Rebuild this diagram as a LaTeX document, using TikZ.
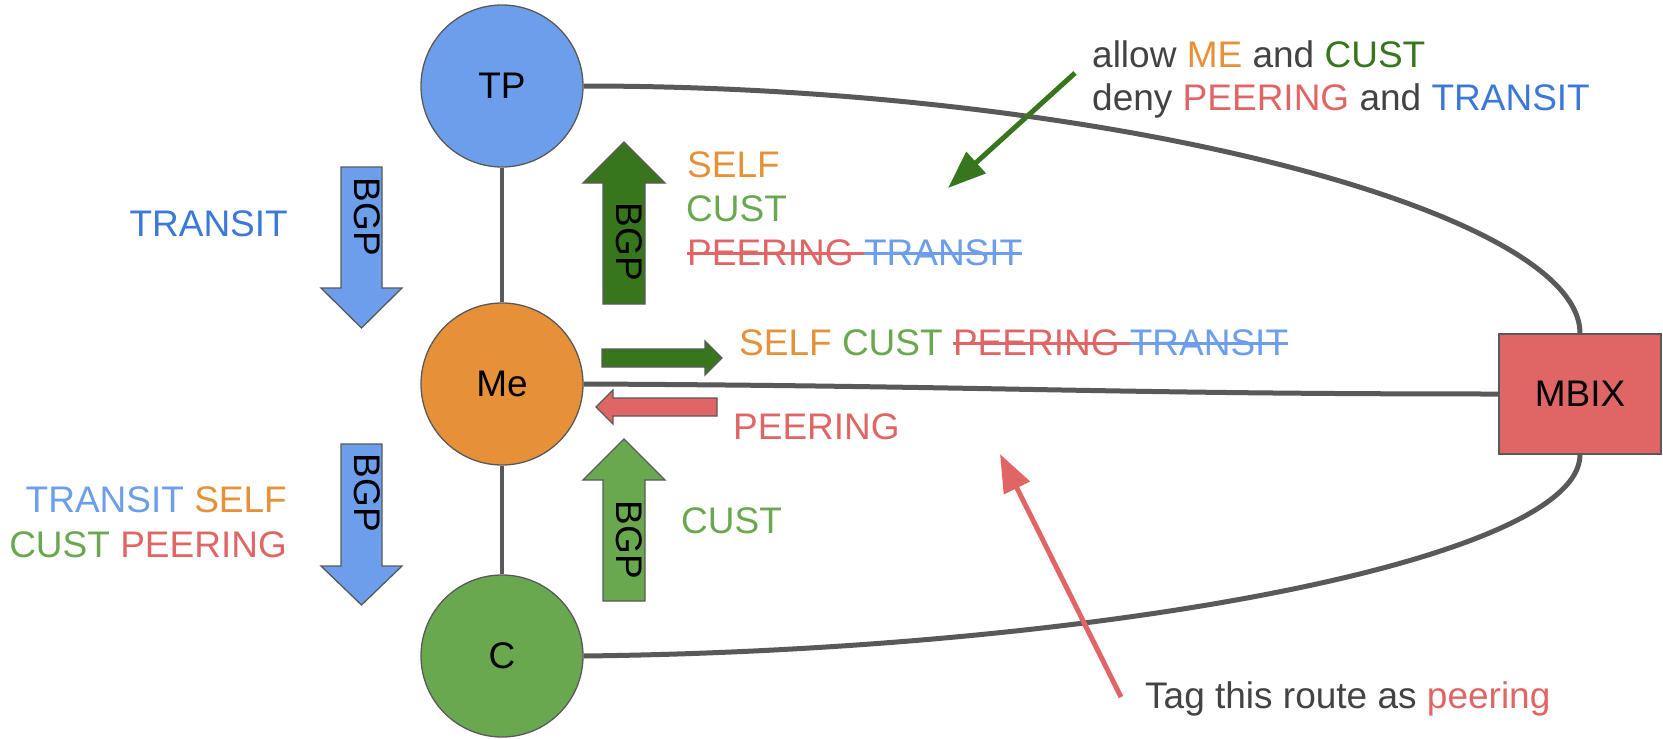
\documentclass[tikz,border=0pt]{standalone}
\usepackage{fontspec}
\setmainfont{Liberation Sans}
\usetikzlibrary{arrows.meta}
\definecolor{cOrange}{HTML}{E69138}
\definecolor{cGreen}{HTML}{6AA84F}
\definecolor{cDkGreen}{HTML}{38761D}
\definecolor{cRed}{HTML}{E06666}
\definecolor{cBlue}{HTML}{6D9EEB}
\definecolor{cDkBlue}{HTML}{3C78D8}
\definecolor{cGrey}{HTML}{434343}
\definecolor{cLine}{HTML}{595959}
\newsavebox{\mystrikebox}
\newcommand{\strk}[2]{{\color{#1}\sbox{\mystrikebox}{#2}\rlap{\rule[0.27em]{\wd\mystrikebox}{0.09em}}\usebox{\mystrikebox}}}
\begin{document}
\begin{tikzpicture}[x=1pt,y=-1pt,
  every node/.style={font=\fontsize{37}{44}\selectfont, inner sep=0pt},
  hub/.style={circle, minimum size=162pt, draw=cLine, line width=1.3pt},
  conn/.style={draw=cLine, line width=5pt},
  vconn/.style={draw=cLine, line width=4.5pt},
  blk/.style={draw=cLine, line width=1.3pt},
  lbl/.style={anchor=base west},
  bgp/.style={rotate=-90},
  annot/.style={line width=5pt, -{Triangle[length=38pt,width=28pt]}}]
\useasboundingbox (0,0) rectangle (1663,739);

% main nodes
\node[hub, fill=cBlue] (tp) at (502,86) {TP};
\node[hub, fill=cOrange] (me) at (502,384) {Me};
\node[hub, fill=cGreen] (c) at (502,656) {C};
\node[draw=cLine, line width=1.3pt, fill=cRed, minimum width=162pt, minimum height=120pt] (mbix) at (1580,394) {MBIX};

% connectors
\draw[vconn] (tp.south) -- (me.north);
\draw[vconn] (me.south) -- (c.north);
\draw[conn] (tp.east) .. controls (1100,86) and (1580,210) .. (mbix.north);
\draw[conn] (me.east) .. controls (1000,386) and (1100,394) .. (mbix.west);
\draw[conn] (c.east) .. controls (1100,650) and (1580,560) .. (mbix.south);

% block arrows
\draw[blk, fill=cBlue] (341,167) -- (382,167) -- (382,288) -- (402,288) -- (361.5,328) -- (321,288) -- (341,288) -- cycle;
\node[bgp] (bgp1) at (367,217) {BGP};
\draw[blk, fill=cBlue] (341,444) -- (382,444) -- (382,566) -- (402,566) -- (361.5,605) -- (321,566) -- (341,566) -- cycle;
\node[bgp] (bgp2) at (367,493) {BGP};
\draw[blk, fill=cDkGreen] (603,304) -- (645,304) -- (645,183) -- (665,183) -- (624,142) -- (583,183) -- (603,183) -- cycle;
\node[bgp] (bgp3) at (629,242) {BGP};
\draw[blk, fill=cGreen] (603,601) -- (645,601) -- (645,480) -- (665,480) -- (624,439) -- (583,480) -- (603,480) -- cycle;
\node[bgp] (bgp4) at (629,540) {BGP};
\draw[blk, fill=cDkGreen] (602,349) -- (705,349) -- (705,341) -- (722,358) -- (705,375) -- (705,367) -- (602,367) -- cycle;
\draw[blk, fill=cRed] (717,398) -- (613,398) -- (613,390) -- (596,407) -- (613,424) -- (613,416) -- (717,416) -- cycle;

% labels
\node[anchor=base east, text=cDkBlue] (t1) at (288,236) {TRANSIT};
\node[anchor=base east] (t2) at (287,512) {\textcolor{cBlue}{TRANSIT} \textcolor{cOrange}{SELF}};
\node[anchor=base east] (t3) at (287,557) {\textcolor{cGreen}{CUST} \textcolor{cRed}{PEERING}};
\node[lbl, text=cOrange] (l1) at (687,177) {SELF};
\node[lbl, text=cGreen] (l2) at (686,221) {CUST};
\node[lbl] (l3) at (687,265) {\strk{cRed}{PEERING }\strk{cBlue}{TRANSIT}};
\node[lbl] (l4) at (739,355) {\textcolor{cOrange}{SELF} \textcolor{cGreen}{CUST} \strk{cRed}{PEERING }\strk{cBlue}{TRANSIT}};
\node[lbl, text=cRed] (l5) at (733,439) {PEERING};
\node[lbl, text=cGreen] (l6) at (681,533) {CUST};
\node[lbl, text=cGrey] (a1) at (1092,67) {allow \textcolor{cOrange}{ME} and \textcolor{cDkGreen}{CUST}};
\node[lbl, text=cGrey] (a2) at (1092,110) {deny \textcolor{cRed}{PEERING} and \textcolor{cDkBlue}{TRANSIT}};
\node[lbl, text=cGrey] (tag) at (1145,708) {Tag this route as \textcolor{cRed}{peering}};

% annotation arrows
\coordinate (gtail) at (1075,73);
\coordinate (gtip) at (948,188);
\draw[annot, draw=cDkGreen, fill=cDkGreen] (gtail) -- (gtip);
\coordinate (rtail) at (1121,697);
\coordinate (rtip) at (1000,454);
\draw[annot, draw=cRed, fill=cRed] (rtail) -- (rtip);
\end{tikzpicture}
\end{document}
